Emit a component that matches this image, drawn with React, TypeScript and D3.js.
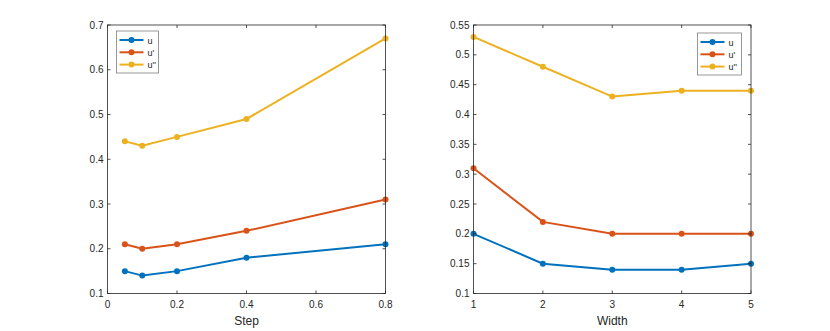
import React from "react";
import * as d3 from "d3";

const seriesNames = ["u", "u'", "u''"];
const colors = ["#0072BD", "#D95319", "#EDB120"];

const stepX = [0.05, 0.1, 0.2, 0.4, 0.8];
const stepU = [0.15, 0.14, 0.15, 0.18, 0.21];
const stepU1 = [0.21, 0.2, 0.21, 0.24, 0.31];
const stepU2 = [0.44, 0.43, 0.45, 0.49, 0.67];

const widthX = [1, 2, 3, 4, 5];
const widthU = [0.2, 0.15, 0.14, 0.14, 0.15];
const widthU1 = [0.31, 0.22, 0.2, 0.2, 0.2];
const widthU2 = [0.53, 0.48, 0.43, 0.44, 0.44];

const stepXTicks = [0, 0.2, 0.4, 0.6, 0.8];
const stepYTicks = [0.1, 0.2, 0.3, 0.4, 0.5, 0.6, 0.7];
const widthXTicks = [1, 2, 3, 4, 5];
const widthYTicks = [0.1, 0.15, 0.2, 0.25, 0.3, 0.35, 0.4, 0.45, 0.5, 0.55];

const FONT = "'Liberation Sans', Arial, Helvetica, sans-serif";
const AX = "#262626";

type PanelProps = {
  xDomain: [number, number];
  yDomain: [number, number];
  xRange: [number, number];
  yRange: [number, number];
  xs: number[];
  ys: number[][];
  xTicks: number[];
  yTicks: number[];
  xLabel: string;
  legendX: number;
  legendY: number;
  legendW: number;
};

function Panel(p: PanelProps) {
  const x = d3.scaleLinear().domain(p.xDomain).range(p.xRange);
  const y = d3.scaleLinear().domain(p.yDomain).range(p.yRange);
  const line = d3
    .line<number>()
    .x((_, i) => x(p.xs[i]))
    .y((d) => y(d));
  const [x0, x1] = p.xRange;
  const [yb, yt] = p.yRange;
  const tl = 3;
  const fmt = (v: number) => String(+v.toFixed(2));
  return (
    <g>
      {p.ys.map((s, si) => (
        <g key={si}>
          <path d={line(s) || ""} fill="none" stroke={colors[si]} strokeWidth={2} />
          {s.map((v, i) => (
            <circle key={i} cx={x(p.xs[i])} cy={y(v)} r={3} fill={colors[si]} />
          ))}
        </g>
      ))}
      <rect x={x0} y={yt} width={x1 - x0} height={yb - yt} fill="none" stroke={AX} strokeWidth={0.8} />
      {p.xTicks.map((t) => (
        <g key={"xt" + t}>
          <line x1={x(t)} x2={x(t)} y1={yb} y2={yb - tl} stroke={AX} strokeWidth={0.8} />
          <line x1={x(t)} x2={x(t)} y1={yt} y2={yt + tl} stroke={AX} strokeWidth={0.8} />
          <text x={x(t)} y={yb + 14} textAnchor="middle" fontSize={10} fill={AX} fontFamily={FONT}>
            {fmt(t)}
          </text>
        </g>
      ))}
      {p.yTicks.map((t) => (
        <g key={"yt" + t}>
          <line x1={x0} x2={x0 + tl} y1={y(t)} y2={y(t)} stroke={AX} strokeWidth={0.8} />
          <line x1={x1} x2={x1 - tl} y1={y(t)} y2={y(t)} stroke={AX} strokeWidth={0.8} />
          <text x={x0 - 4} y={y(t) + 3.5} textAnchor="end" fontSize={10} fill={AX} fontFamily={FONT}>
            {fmt(t)}
          </text>
        </g>
      ))}
      <text x={(x0 + x1) / 2} y={yb + 31} textAnchor="middle" fontSize={12} fill={AX} fontFamily={FONT}>
        {p.xLabel}
      </text>
      <g transform={`translate(${p.legendX},${p.legendY})`}>
        <rect x={0} y={0} width={p.legendW} height={42} fill="white" stroke="#7f7f7f" strokeWidth={0.8} />
        {seriesNames.map((n, i) => (
          <g key={n} transform={`translate(0,${9 + i * 12.3})`}>
            <line x1={3} x2={27} y1={0} y2={0} stroke={colors[i]} strokeWidth={2} />
            <circle cx={15} cy={0} r={3} fill={colors[i]} />
            <text x={31} y={3.5} fontSize={9} fill={AX} fontFamily={FONT}>
              {n}
            </text>
          </g>
        ))}
      </g>
    </g>
  );
}

export default function App() {
  return (
    <svg
      width={830}
      height={331}
      style={{ position: "absolute", left: 0, top: 0, background: "white" }}
    >
      <rect width={830} height={331} fill="white" />
      <Panel
        xDomain={[0, 0.8]}
        yDomain={[0.1, 0.7]}
        xRange={[107.5, 385.5]}
        yRange={[293.5, 25]}
        xs={stepX}
        ys={[stepU, stepU1, stepU2]}
        xTicks={stepXTicks}
        yTicks={stepYTicks}
        xLabel="Step"
        legendX={116.5}
        legendY={31}
        legendW={42}
      />
      <Panel
        xDomain={[1, 5]}
        yDomain={[0.1, 0.55]}
        xRange={[473.5, 751]}
        yRange={[293.5, 25]}
        xs={widthX}
        ys={[widthU, widthU1, widthU2]}
        xTicks={widthXTicks}
        yTicks={widthYTicks}
        xLabel="Width"
        legendX={697.5}
        legendY={33}
        legendW={44}
      />
    </svg>
  );
}
